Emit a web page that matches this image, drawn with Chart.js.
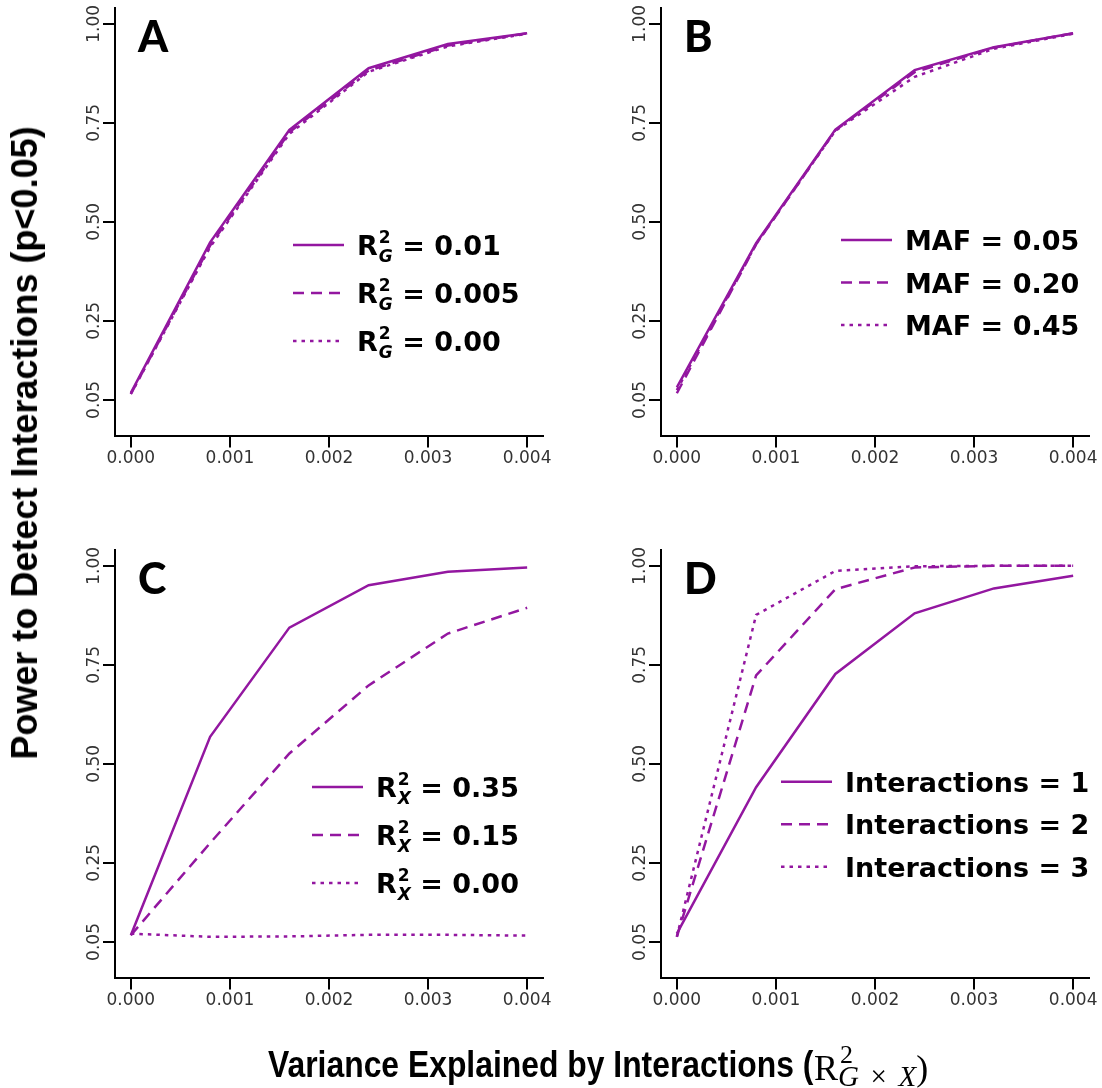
<!doctype html>
<html lang="en">
<head>
<meta charset="utf-8">
<title>Power to Detect Interactions</title>
<style>
	body { margin:0; background:#fff; }
	#wrap { position:relative; width:1102px; height:1088px; overflow:hidden; }
	#wrap canvas { position:absolute; left:0; top:0; }
	.ytitle { position:absolute; left:25px; top:443px; transform:translate(-50%,-50%) rotate(-90deg); font:bold 36px 'Liberation Sans', Arial, sans-serif; white-space:nowrap; line-height:1; }
	.xtext { position:absolute; left:268px; top:1047px; transform-origin:left top; transform:scaleX(0.885); font:bold 36px 'Liberation Sans', Arial, sans-serif; white-space:nowrap; line-height:1; }
	.xmath { position:absolute; left:814px; top:1047px; white-space:nowrap; line-height:1; font:normal 36px 'Liberation Serif', serif; }
	.mSS { display:inline-block; position:relative; font:italic 29px 'Liberation Serif', serif; }
	.mSS .sup { position:absolute; left:2px; top:-14px; font-style:normal; font-size:26px; }
	.mSS .sub { display:inline-block; position:relative; top:6px; }
	.mSS .op { margin:0 0.4em; font-style:normal; }
</style>
</head>
<body>
<div id="wrap">
	<canvas id="panelA" width="1102" height="1088"></canvas>
	<canvas id="panelB" width="1102" height="1088"></canvas>
	<canvas id="panelC" width="1102" height="1088"></canvas>
	<canvas id="panelD" width="1102" height="1088"></canvas>
	<div class="ytitle">Power to Detect Interactions (p&lt;0.05)</div>
	<div class="xtext">Variance Explained by Interactions (</div>
	<div class="xmath">R<span class="mSS"><span class="sup">2</span><span class="sub">G<span class="op">×</span>X</span></span>)</div>
</div>
<script src="https://cdn.jsdelivr.net/npm/chart.js@4.4.1/dist/chart.umd.min.js"></script>
<script>
	// x positions of the simulated points and the axis ticks
	var xValues = [0, 0.0008, 0.0016, 0.0024, 0.0032, 0.004];
	var xTicks = [0, 0.001, 0.002, 0.003, 0.004];
	var yTicks = [0.05, 0.25, 0.50, 0.75, 1.00];

	// A: genetic main effect R2_G
	var legendA = [" = 0.01", " = 0.005", " = 0.00"];
	var powerA1 = [0.068, 0.448, 0.732, 0.888, 0.949, 0.976];
	var powerA2 = [0.065, 0.440, 0.726, 0.882, 0.945, 0.976];
	var powerA3 = [0.065, 0.436, 0.722, 0.879, 0.943, 0.975];

	// B: minor allele frequency
	var legendB = ["MAF = 0.05", "MAF = 0.20", "MAF = 0.45"];
	var powerB1 = [0.082, 0.446, 0.733, 0.883, 0.941, 0.976];
	var powerB2 = [0.067, 0.443, 0.731, 0.878, 0.940, 0.976];
	var powerB3 = [0.075, 0.444, 0.730, 0.866, 0.937, 0.975];

	// C: environmental main effect R2_X
	var legendC = [" = 0.35", " = 0.15", " = 0.00"];
	var powerC1 = [0.067, 0.568, 0.844, 0.951, 0.985, 0.996];
	var powerC2 = [0.067, 0.300, 0.526, 0.698, 0.829, 0.894];
	var powerC3 = [0.071, 0.063, 0.064, 0.068, 0.068, 0.066];

	// D: number of interactions
	var legendD = ["Interactions = 1", "Interactions = 2", "Interactions = 3"];
	var powerD1 = [0.071, 0.441, 0.727, 0.880, 0.943, 0.975];
	var powerD2 = [0.063, 0.723, 0.941, 0.996, 1.000, 1.000];
	var powerD3 = [0.063, 0.876, 0.987, 0.999, 1.000, 1.000];

	var purple = '#9317a0';
	var dashStyles = [[], [11, 7], [3.5, 5]];
	var W = 1102, H = 1088;

	// panel letter and a legend with sub/superscripts
	var panelDecor = {
		id:'panelDecor',
		afterDatasetsDraw:function(chart, args, opts)
		{
			var ctx = chart.ctx;
			var area = chart.chartArea;
			ctx.save();
			ctx.fillStyle = '#000';
			ctx.textBaseline = 'alphabetic';
			ctx.font = '900 43px Lato';
			ctx.fillText(opts.tag, area.left + 23, area.top + 44);

			chart.data.datasets.forEach(function(ds, i)
			{
				var y = area.top + opts.top + i * opts.gap;
				var x0 = area.left + opts.left;
				ctx.strokeStyle = ds.borderColor;
				ctx.lineWidth = ds.borderWidth;
				ctx.setLineDash(ds.borderDash);
				ctx.beginPath();
				ctx.moveTo(x0, y);
				ctx.lineTo(x0 + 51, y);
				ctx.stroke();
				ctx.setLineDash([]);

				var tx = x0 + 64;
				var base = y + 10;
				var p = ds.legendParts;
				ctx.font = 'bold 27px "DejaVu Sans"';
				if (p.sub)
				{
					ctx.fillText(p.base, tx, base);
					tx += ctx.measureText(p.base).width + 1;
					ctx.font = 'bold 17px "DejaVu Sans"';
					ctx.fillText(p.sup, tx, base - 12);
					var w1 = ctx.measureText(p.sup).width;
					ctx.font = 'italic bold 17px "DejaVu Sans"';
					ctx.fillText(p.sub, tx, base + 7);
					var w2 = ctx.measureText(p.sub).width;
					tx += Math.max(w1, w2);
					ctx.font = 'bold 27px "DejaVu Sans"';
					ctx.fillText(p.rest, tx, base);
				}
				else
				{
					ctx.fillText(p.base, tx, base);
				}
			});
			ctx.restore();
		}
	};

	function toPoints(series)
	{
		return series.map(function(v, i) { return {x:xValues[i], y:v}; });
	}

	function makePanel(id, area, tag, seriesList, parts, legendPos)
	{
		var datasets = seriesList.map(function(series, i)
		{
			return {
				data:toPoints(series),
				borderColor:purple,
				borderWidth:2.5,
				borderDash:dashStyles[i],
				pointRadius:0,
				tension:0,
				fill:false,
				legendParts:parts[i]
			};
		});

		var tickFont = {family:'DejaVu Sans', size:17};

		return new Chart(id, {
			type:'line',
			data:{datasets:datasets},
			options:{
				responsive:false,
				animation:false,
				events:[],
				layout:{
					padding:{
						left:area.left - 115,
						top:area.top,
						right:W - area.right,
						bottom:H - area.bottom - 40
					}
				},
				plugins:{
					legend:{display:false},
					tooltip:{enabled:false},
					panelDecor:{tag:tag, left:legendPos.left, top:legendPos.top, gap:legendPos.gap}
				},
				scales:{
					x:{
						type:'linear',
						min:-0.00016,
						max:0.00416,
						afterBuildTicks:function(s) { s.ticks = xTicks.map(function(v) { return {value:v}; }); },
						afterFit:function(s) { s.height = 40; },
						ticks:{
							callback:function(v) { return v.toFixed(3); },
							font:tickFont,
							color:'#333',
							padding:1,
							maxRotation:0,
							autoSkip:false
						},
						grid:{drawOnChartArea:false, drawTicks:true, tickLength:12, color:'#000', lineWidth:2},
						border:{display:true, color:'#000', width:2}
					},
					y:{
						type:'linear',
						min:-0.04,
						max:1.04,
						afterBuildTicks:function(s) { s.ticks = yTicks.map(function(v) { return {value:v}; }); },
						afterFit:function(s) { s.width = 115; },
						ticks:{
							callback:function(v) { return v.toFixed(2); },
							font:tickFont,
							color:'#333',
							minRotation:90,
							maxRotation:90,
							crossAlign:'center',
							padding:-11,
							autoSkip:false
						},
						grid:{drawOnChartArea:false, drawTicks:true, tickLength:12, color:'#000', lineWidth:2},
						border:{display:true, color:'#000', width:2}
					}
				}
			},
			plugins:[panelDecor]
		});
	}

	function rParts(sub, rest)
	{
		return rest.map(function(r) { return {base:'R', sup:'2', sub:sub, rest:r}; });
	}
	function plainParts(labels)
	{
		return labels.map(function(l) { return {base:l}; });
	}

	makePanel('panelA', {left:115, right:543, top:8, bottom:435.6}, 'A',
		[powerA1, powerA2, powerA3], rParts('G', legendA), {left:178, top:237, gap:48});
	makePanel('panelB', {left:661, right:1089, top:8, bottom:435.6}, 'B',
		[powerB1, powerB2, powerB3], plainParts(legendB), {left:180, top:232, gap:42.5});
	makePanel('panelC', {left:115, right:543, top:550, bottom:977.6}, 'C',
		[powerC1, powerC2, powerC3], rParts('X', legendC), {left:197, top:237, gap:48});
	makePanel('panelD', {left:661, right:1089, top:550, bottom:977.6}, 'D',
		[powerD1, powerD2, powerD3], plainParts(legendD), {left:120, top:231.7, gap:42.5});
</script>
</body>
</html>
